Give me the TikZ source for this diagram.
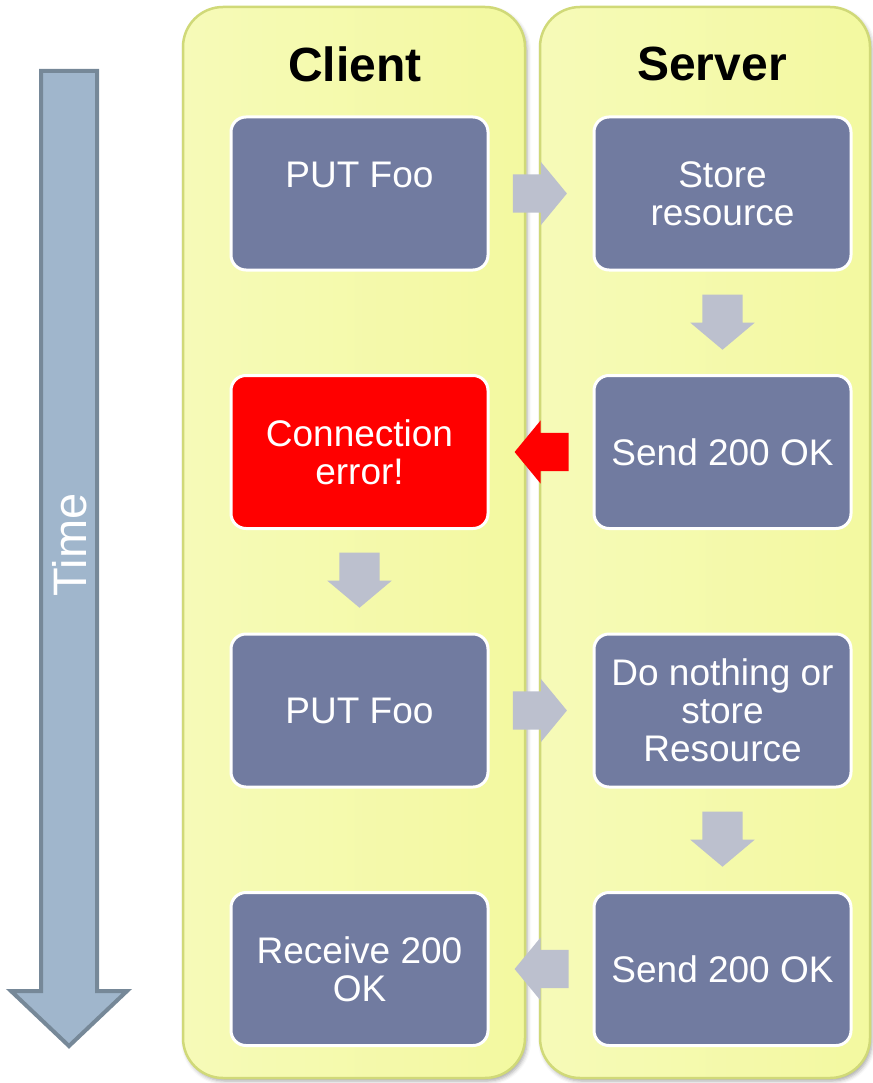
\documentclass[tikz,border=0pt]{standalone}
\usepackage{fontspec}
\setmainfont{Liberation Sans}
\usetikzlibrary{shapes.arrows,shadows.blur,calc}
\definecolor{laneedge}{HTML}{D0D978}
\definecolor{laneleft}{HTML}{F6FAB8}
\definecolor{laneright}{HTML}{F3F9A0}
\definecolor{boxblue}{HTML}{717BA0}
\definecolor{flowgray}{HTML}{BCC0CE}
\definecolor{timefill}{HTML}{A0B6CC}
\definecolor{timeedge}{HTML}{768898}

\begin{document}
\begin{tikzpicture}[x=1pt,y=-1pt,line cap=round,line join=round,
	lane/.style={draw=laneedge,line width=2.5pt,rounded corners=40pt,left color=laneleft,right color=laneright,
		blur shadow={shadow xshift=2pt,shadow yshift=-3pt,shadow blur radius=4pt,shadow opacity=35}},
	heading/.style={font=\fontsize{48}{50}\selectfont\bfseries,text=black,inner sep=0pt},
	stepbox/.style={rectangle,rounded corners=15pt,draw=white,line width=3pt,fill=boxblue,text=white,
		minimum width=257pt,minimum height=153pt,align=center,inner sep=0pt,font=\fontsize{37}{38}\selectfont},
	harrow/.style={single arrow,draw=none,fill=flowgray,inner xsep=0pt,inner ysep=19pt,minimum height=54pt,
		single arrow head extend=12.5pt,single arrow tip angle=101},
	varrow/.style={single arrow,draw=none,fill=flowgray,inner xsep=20pt,inner ysep=0pt,minimum height=55pt,
		single arrow head extend=12pt,single arrow tip angle=100,shape border rotate=270}]
	\useasboundingbox (0,0) rectangle (872,1083);
	% swimlanes
	\node[lane,minimum width=342pt,minimum height=1071pt] (client) at (354,542.5) {};
	\node[lane,minimum width=330pt,minimum height=1071pt] (server) at (705,542.5) {};
	\node[heading] (clienthead) at (355,64) {Client};
	\node[heading] (serverhead) at (712,64) {Server};
	% time axis
	\draw[line width=4pt,fill=timefill,draw=timeedge,line cap=butt,line join=miter]
		(41,71) -- (97,71) -- (97,991) -- (127,991) -- (69,1046) -- (11,991) -- (41,991) -- cycle;
	\node[rotate=90,text=white,font=\fontsize{47}{48}\selectfont,inner sep=0pt] (time) at (70,545) {Time};
	% client steps
	\node[stepbox] (put1) at (359.5,193.5) {PUT Foo\\~};
	\node[stepbox,fill=red] (error) at (359.5,452) {Connection\\error!};
	\node[stepbox] (put2) at (359.5,710.5) {PUT Foo};
	\node[stepbox] (receive) at (359.5,969) {Receive 200\\OK};
	% server steps
	\node[stepbox] (store) at (722.5,193.5) {Store\\resource};
	\node[stepbox] (send1) at (722.5,452) {Send 200 OK};
	\node[stepbox] (maybe) at (722.5,710.5) {Do nothing or\\store\\Resource};
	\node[stepbox] (send2) at (722.5,969) {Send 200 OK};
	% flow arrows
	\node[harrow] (a1) at ($(put1.east)!0.5!(store.west)+(-9,0)$) {};
	\node[varrow] (a2) at ($(store.south)!0.5!(send1.north)+(0,-9)$) {};
	\node[harrow,fill=red,shape border rotate=180] (a3) at ($(send1.west)!0.5!(error.east)+(8.5,0)$) {};
	\node[varrow] (a4) at ($(error.south)!0.5!(put2.north)+(0,-9.5)$) {};
	\node[harrow] (a5) at ($(put2.east)!0.5!(maybe.west)+(-9,0)$) {};
	\node[varrow] (a6) at ($(maybe.south)!0.5!(send2.north)+(0,-9)$) {};
	\node[harrow,shape border rotate=180] (a7) at ($(send2.west)!0.5!(receive.east)+(8.5,0)$) {};
\end{tikzpicture}
\end{document}
